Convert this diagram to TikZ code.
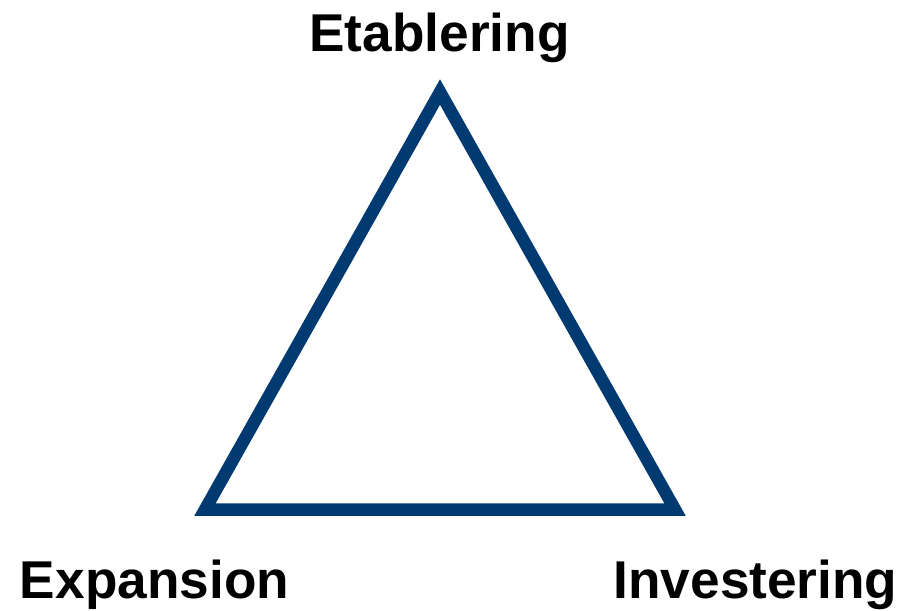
\documentclass[tikz,border=0pt]{standalone}
\usepackage{fontspec}
\setmainfont{Liberation Sans}
\definecolor{triblue}{RGB}{0,58,112}
\begin{document}
\begin{tikzpicture}[x=1pt,y=-1pt,
  lbl/.style={font=\fontsize{53.2}{60}\selectfont\bfseries, inner sep=0pt, anchor=base, text=black},
  tri/.style={draw=triblue, line width=12.5pt, line join=miter}]
\useasboundingbox (0,0) rectangle (923,610);
\coordinate (top) at (440,92);
\coordinate (bl) at (205,509.5);
\coordinate (br) at (675,509.5);
\draw[tri] (top) -- (bl) -- (br) -- cycle;
\node[lbl] (etab) at (439.5,51.5) {Etablering};
\node[lbl] (expa) at (154.5,598.5) {Expansion};
\node[lbl] (inve) at (755.5,598.5) {Investering};
\end{tikzpicture}
\end{document}
